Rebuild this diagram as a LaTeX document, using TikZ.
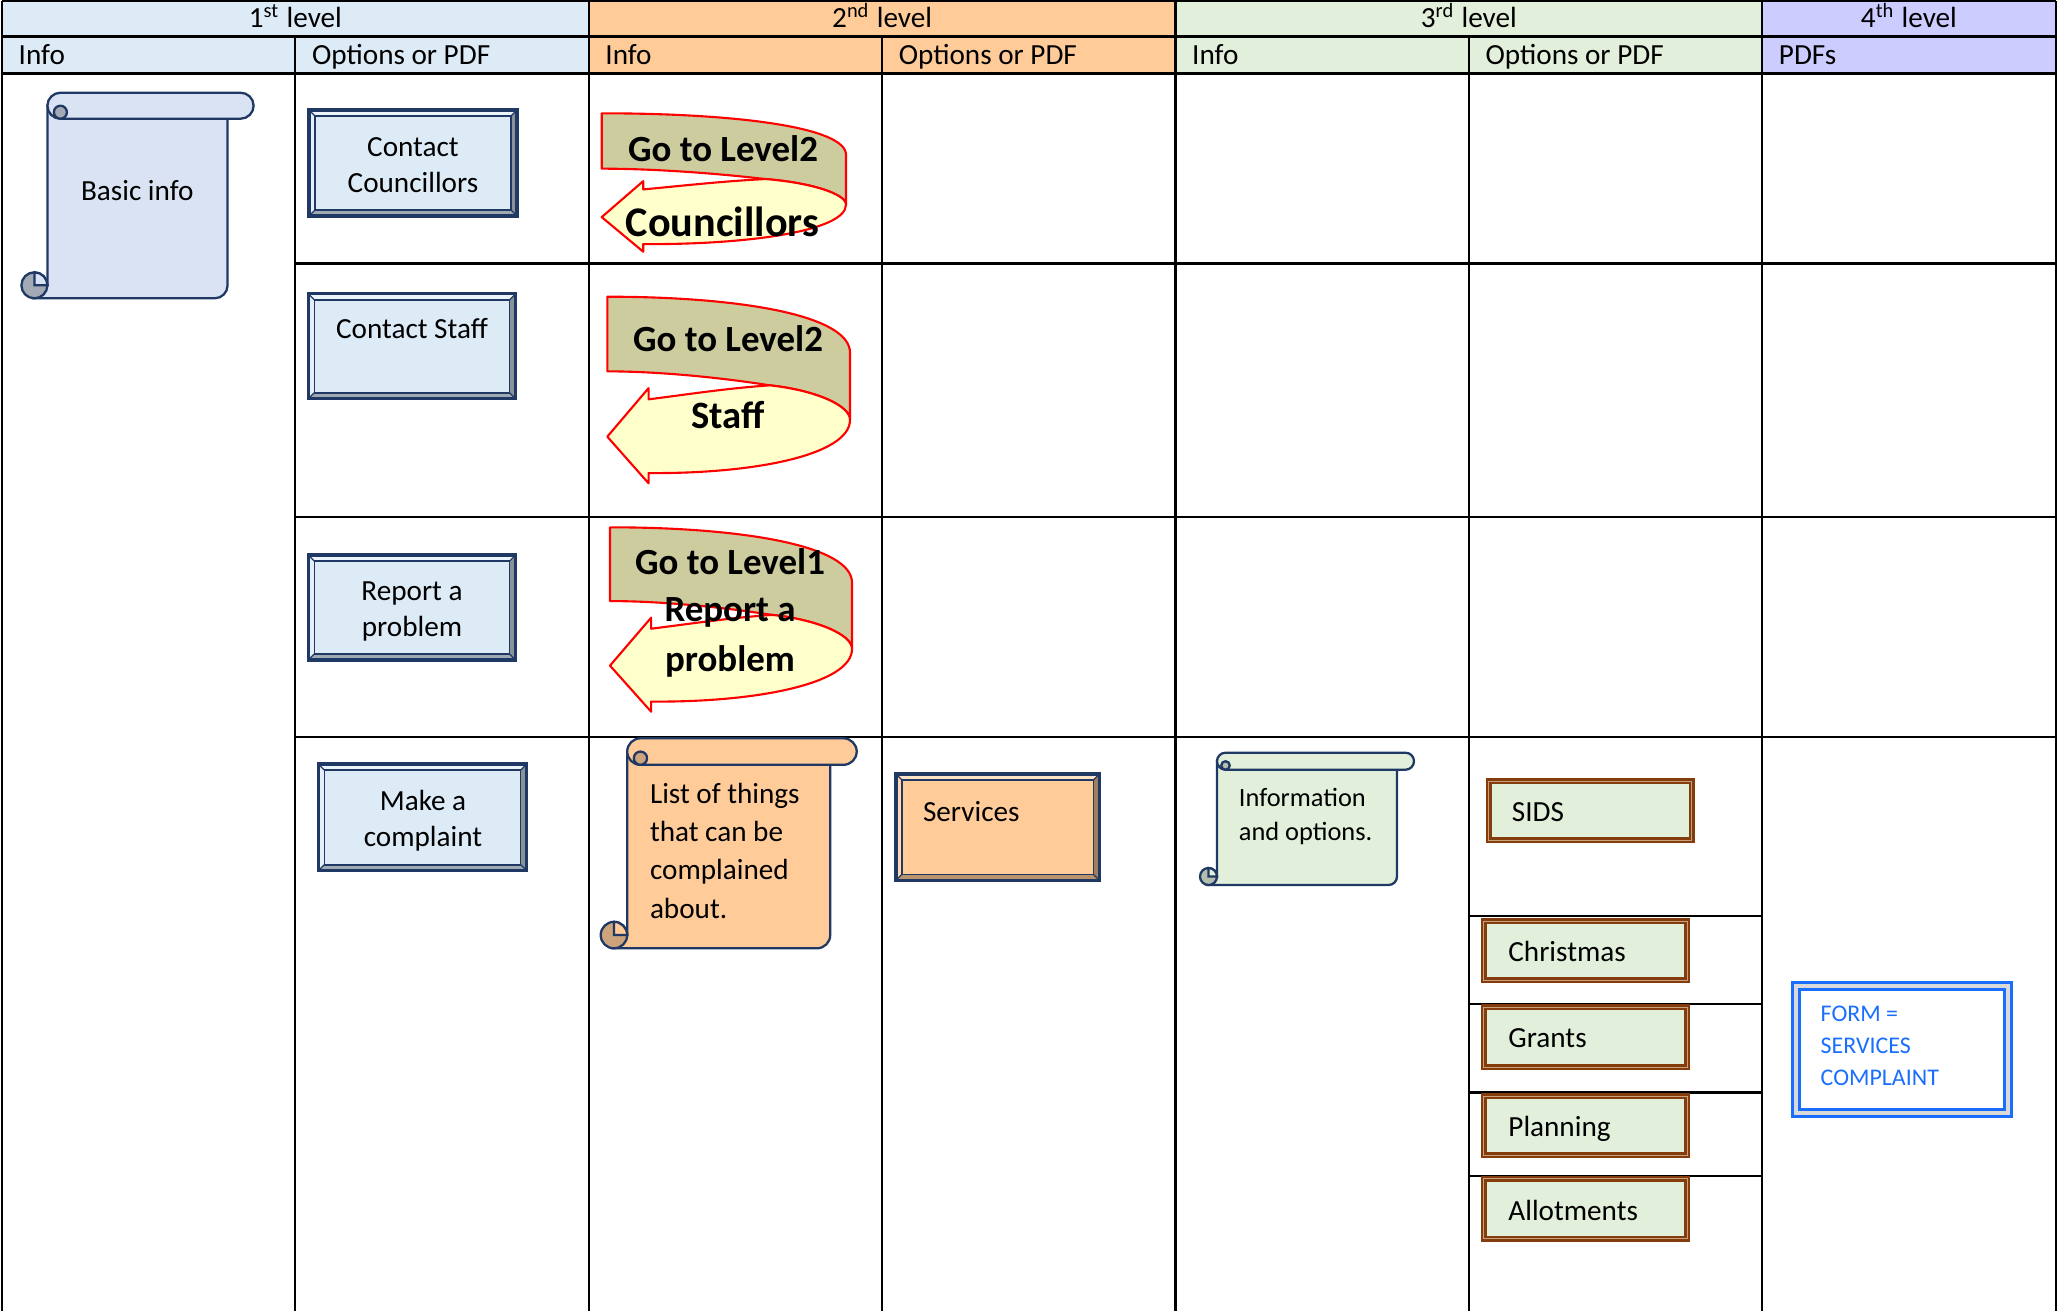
\documentclass[tikz,border=0pt]{standalone}
\usepackage{fontspec}
\setmainfont{Carlito}
\usepackage{tikz,xcolor}
\usetikzlibrary{calc}

\definecolor{navyline}{HTML}{1F3864}
\definecolor{levA}{HTML}{DDEBF7}
\definecolor{levB}{HTML}{FFCC99}
\definecolor{levC}{HTML}{E2EFDA}
\definecolor{levD}{HTML}{CCCCFF}
\definecolor{scrollA}{HTML}{DAE3F3}
\definecolor{khaki}{HTML}{CCCC9E}
\definecolor{paleyellow}{HTML}{FFFFCC}
\definecolor{framebrown}{HTML}{843C0C}
\definecolor{frametan}{HTML}{C8A27C}
\definecolor{formblue}{HTML}{1A6EFF}
\definecolor{formgray}{HTML}{D9D9D9}

\newcommand{\bodysize}{\fontsize{8.3}{10.3}\selectfont}

\tikzset{
  tableline/.style={black,line width=0.6pt},
  scrollline/.style={navyline,line width=0.65pt},
  uturnline/.style={red,line width=0.6pt,line join=round},
  bevelouter/.style={navyline,line width=0.9pt},
  bevelinner/.style={navyline,line width=0.45pt},
  bevelcorner/.style={navyline,line width=0.35pt},
  celltext/.style={font=\bodysize,inner sep=0pt,anchor=base},
  celltextleft/.style={font=\bodysize,inner sep=0pt,anchor=base west},
  turntext/.style={font=\fontsize{10.5}{14.2}\selectfont\bfseries,inner sep=0pt,anchor=base},
}

% scroll: x0 y0 x1 y1 roll fill curl
\newcommand{\scrollshape}[7]{%
  \pgfmathsetmacro{\scrr}{#5/2}%
  \pgfmathsetmacro{\scrk}{0.448*#5/2}%
  \filldraw[scrollline,fill=#6] ({#1+\scrr},#4) -- ({#3-#5-\scrr},#4)
    .. controls ({#3-#5-\scrk},#4) and ({#3-#5},{#4-\scrk}) .. ({#3-#5},{#4-\scrr})
    -- ({#3-#5},{#2+\scrr}) -- ({#1+#5},{#2+\scrr}) -- ({#1+#5},{#4-\scrr}) -- cycle;
  \filldraw[scrollline,fill=#6,rounded corners={\scrr*0.01cm}] ({#1+#5},#2) rectangle (#3,{#2+#5});
  \filldraw[scrollline,fill=#7] ({#1+#5+\scrr},{#2+1.5*\scrr}) circle ({\scrr/2});
  \filldraw[scrollline,fill=#7] ({#1+\scrr},{#4-\scrr}) circle (\scrr);
  \filldraw[scrollline,fill=#6] ({#1+\scrr},{#4-#5}) arc[start angle=-90,end angle=0,radius=\scrr]
    -- ({#1+\scrr},{#4-\scrr}) -- cycle;
}

% bevel: x0 y0 x1 y1 fill
\newcommand{\bevelbox}[5]{%
  \fill[#5] (#1,#2) rectangle (#3,#4);
  \fill[#5!55!white] (#1,#2) -- (#3,#2) -- ({#3-6},{#2+6}) -- ({#1+6},{#2+6}) -- cycle;
  \fill[#5!80!white] (#1,#2) -- ({#1+6},{#2+6}) -- ({#1+6},{#4-6}) -- (#1,#4) -- cycle;
  \fill[#5!62!black] (#3,#2) -- (#3,#4) -- ({#3-6},{#4-6}) -- ({#3-6},{#2+6}) -- cycle;
  \fill[#5!72!black] (#1,#4) -- (#3,#4) -- ({#3-6},{#4-6}) -- ({#1+6},{#4-6}) -- cycle;
  \draw[bevelinner] ({#1+6},{#2+6}) rectangle ({#3-6},{#4-6});
  \draw[bevelcorner] (#1,#2) -- ({#1+6},{#2+6}) (#3,#2) -- ({#3-6},{#2+6})
    (#1,#4) -- ({#1+6},{#4-6}) (#3,#4) -- ({#3-6},{#4-6});
  \draw[bevelouter] (#1,#2) rectangle (#3,#4);
}

% brown double frame: x0 y0 x1 y1
\newcommand{\brownframe}[4]{%
  \fill[levC] (#1,#2) rectangle (#3,#4);
  \draw[framebrown,line width=1.7pt] ({#1+3},{#2+3}) rectangle ({#3-3},{#4-3});
  \draw[frametan,line width=0.3pt] ({#1+2.8},{#2+2.8}) rectangle ({#3-2.8},{#4-2.8});
}

% u-turn arrow in its box: x y w h
\newcommand{\uturn}[4]{%
  \begin{scope}[shift={(#1,#2)},xscale=#3,yscale=#4]
    \filldraw[uturnline,fill=khaki] (0,0) .. controls (0.55,0) and (1,0.1) .. (1,0.3) -- (1,0.66)
      .. controls (1,0.58) and (0.85,0.5) .. (0.67,0.475)
      .. controls (0.45,0.43) and (0.2,0.4) .. (0,0.4) -- cycle;
    \filldraw[uturnline,fill=paleyellow] (0.17,0.49) -- (0.17,0.55)
      .. controls (0.35,0.52) and (0.5,0.49) .. (0.67,0.475)
      .. controls (0.85,0.5) and (1,0.58) .. (1,0.66)
      .. controls (1,0.85) and (0.6,0.95) .. (0.17,0.945)
      -- (0.17,1) -- (0,0.75) -- cycle;
  \end{scope}}

\begin{document}
\begin{tikzpicture}[x=0.01cm,y=-0.01cm]
  \useasboundingbox (0,0) rectangle (2057,1311);

  % header bands
  \fill[levA] (2,1) rectangle (588.74,73.5);
  \fill[levB] (588.74,1) rectangle (1175.48,73.5);
  \fill[levC] (1175.48,1) rectangle (1762.22,73.5);
  \fill[levD] (1762.22,1) rectangle (2055.59,73.5);

  % table
  \foreach \yy in {1,36.5,73.5} \draw[tableline] (2,\yy) -- (2055.59,\yy);
  \foreach \yy in {263.5,517,737.3} \draw[tableline] (295.37,\yy) -- (2055.59,\yy);
  \foreach \yy in {916,1003.6,1092.5,1176} \draw[tableline] (1468.85,\yy) -- (1762.22,\yy);
  \foreach \xx in {2,588.74,1175.48,1762.22,2055.59} \draw[tableline] (\xx,1) -- (\xx,1311);
  \foreach \xx in {295.37,882.11,1468.85} \draw[tableline] (\xx,36.5) -- (\xx,1311);

  \node[celltext] (lvlone) at (295.37,27.3) {1\textsuperscript{st} level};
  \node[celltext] (lvltwo) at (882.11,27.3) {2\textsuperscript{nd} level};
  \node[celltext] (lvlthree) at (1468.85,27.3) {3\textsuperscript{rd} level};
  \node[celltext] (lvlfour) at (1908.9,27.3) {4\textsuperscript{th} level};
  \node[celltextleft] (infoA) at (18,64.5) {Info};
  \node[celltextleft] (optsA) at (311.4,64.5) {Options or PDF};
  \node[celltextleft] (infoB) at (604.7,64.5) {Info};
  \node[celltextleft] (optsB) at (898.1,64.5) {Options or PDF};
  \node[celltextleft] (infoC) at (1191.5,64.5) {Info};
  \node[celltextleft] (optsC) at (1484.9,64.5) {Options or PDF};
  \node[celltextleft] (pdfsD) at (1778.2,64.5) {PDFs};

  % 1st level
  \scrollshape{21.4}{92.7}{253.6}{298.3}{26}{scrollA}{scrollA!75!black}
  \node[celltext] (basicinfo) at (137.3,200) {Basic info};

  \bevelbox{309}{110}{517}{216}{levA}
  \node[celltext,align=flush center,text width=1.9cm] (contactcouncillors) at (413,156) {Contact\\Councillors};
  \bevelbox{308.3}{293.9}{515.6}{398.8}{levA}
  \node[celltext] (contactstaff) at (412,338) {Contact Staff};
  \bevelbox{308.3}{555}{515.6}{660}{levA}
  \node[celltext,align=flush center,text width=1.9cm] (reportproblem) at (412,600.5) {Report a\\problem};
  \bevelbox{318.3}{764}{526.7}{870.7}{levA}
  \node[celltext,align=flush center,text width=1.9cm] (makecomplaint) at (423,810) {Make a\\complaint};

  % 2nd level
  \uturn{601.7}{113.3}{244.3}{138.4}
  \node[turntext] (gotoA) at (723,161.7) {Go to Level2};
  \node[turntext,font=\fontsize{12}{14}\selectfont\bfseries] (councillors) at (722.5,236.7) {Councillors};
  \uturn{607.3}{296.7}{242.7}{186.6}
  \node[turntext] (gotoB) at (728,351.7) {Go to Level2};
  \node[turntext,font=\fontsize{11}{14}\selectfont\bfseries] (staff) at (728.3,428.3) {Staff};
  \uturn{610}{527.3}{242}{184.4}
  \node[turntext] (gotoC) at (730,574) {Go to Level1};
  \node[turntext,align=flush center,text width=2cm] (reportC) at (730,621.7) {Report a\\problem};

  \scrollshape{600.7}{738.3}{856.7}{948.3}{26.5}{levB}{levB!80!black}
  \node[celltextleft,font=\fontsize{8.3}{10.9}\selectfont,align=flush left,text width=2cm] (complaintlist) at (649.3,803.3)
    {List of things\\that can be\\complained\\about.};

  \bevelbox{896}{774}{1099.4}{880.3}{levB}
  \node[celltextleft] (services) at (922.3,821) {Services};

  % 3rd level
  \scrollshape{1200}{752.7}{1414}{885}{17}{levC}{levC!80!black}
  \node[celltextleft,font=\fontsize{7.5}{9.7}\selectfont,align=flush left,text width=1.6cm] (infooptions) at (1238.2,806.7)
    {Information\\and options.};

  \brownframe{1485.7}{778.3}{1694.6}{843.3}
  \node[celltextleft] (sids) at (1511.2,821.7) {SIDS};
  \brownframe{1481}{918.3}{1690}{983.3}
  \node[celltextleft] (christmas) at (1507.7,961) {Christmas};
  \brownframe{1481}{1004.3}{1690}{1070}
  \node[celltextleft] (grants) at (1507.7,1047.7) {Grants};
  \brownframe{1481}{1093.3}{1690}{1158.3}
  \node[celltextleft] (planning) at (1507.7,1136) {Planning};
  \brownframe{1481}{1176}{1690}{1241.7}
  \node[celltextleft] (allotments) at (1507.7,1220) {Allotments};

  % 4th level
  \fill[white] (1791,981) rectangle (2013,1118);
  \draw[formblue,line width=0.95pt] (1792.7,982.7) rectangle (2011.3,1116.3);
  \draw[formgray,line width=1.1pt] (1796.3,986.3) rectangle (2007.7,1112.7);
  \draw[formblue,line width=0.75pt] (1799.5,989.5) rectangle (2004.5,1109.5);
  \node[celltextleft,font=\fontsize{6.8}{9}\selectfont,text=formblue,align=flush left,text width=1.6cm] (form) at (1820,1021.7)
    {FORM =\\SERVICES\\COMPLAINT};
\end{tikzpicture}
\end{document}
